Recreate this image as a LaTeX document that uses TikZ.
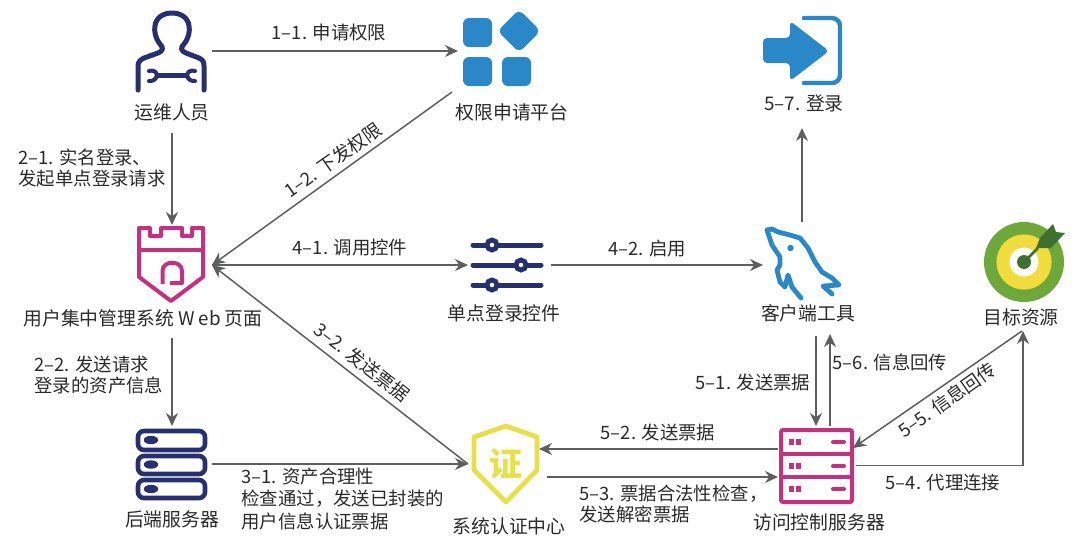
\documentclass[tikz,border=0pt]{standalone}
\usepackage{fontspec}
\setmainfont{Noto Sans CJK SC}
\usetikzlibrary{arrows.meta,calc}
\definecolor{navy}{HTML}{27306F}
\definecolor{blueI}{HTML}{2B88C8}
\definecolor{magentaI}{HTML}{C4317F}
\definecolor{yellowI}{HTML}{E6E04A}
\definecolor{greenI}{HTML}{6FA83A}
\definecolor{greenD}{HTML}{3F7030}
\definecolor{yellowT}{HTML}{F0DC3C}
\definecolor{lineC}{HTML}{5E5E5E}
\definecolor{txt}{HTML}{2A2A2A}
\tikzset{
  x=0.5pt,y=-0.5pt,
  lbl/.style={text=txt,font=\fontsize{9.4pt}{10.5pt}\selectfont,inner sep=0pt,align=left},
  elbl/.style={text=txt,font=\fontsize{9.2pt}{10.5pt}\selectfont,inner sep=0pt,align=left},
  flow/.style={draw=lineC,line width=0.75pt,-{Stealth[length=6.5pt,width=6pt]}},
  icon/.style={inner sep=0pt,outer sep=0pt},
}
\begin{document}
\begin{tikzpicture}
\useasboundingbox (0,0) rectangle (1080,548);
% ---- person
\draw[navy,line width=2.5pt,line join=round,line cap=round]
  (138,90) -- (138,66) .. controls (138,62) and (140,60) .. (144,58)
  -- (158,53) .. controls (163,51) and (164,48) .. (160,44)
  .. controls (155,38) and (154,30) .. (155,26)
  .. controls (156,17) and (164,13) .. (172,13)
  .. controls (180,13) and (188,17) .. (189,26)
  .. controls (190,30) and (189,38) .. (184,44)
  .. controls (180,48) and (181,51) .. (186,53)
  -- (199,58) .. controls (203,60) and (204,62) .. (204,66) -- (204,90);
\draw[navy,line width=2.5pt] (155,75) -- (189,75);
\draw[navy,line width=2pt,line cap=round] (149,71) .. controls (153,70) and (156,71) .. (157,75) .. controls (156,80) and (153,81) .. (149,81);
\draw[navy,line width=2pt,line cap=round] (195,71) .. controls (191,70) and (188,71) .. (187,75) .. controls (188,80) and (191,81) .. (195,81);
% ---- platform
\fill[blueI,rounded corners=3pt] (463,18) rectangle (492,47);
\fill[blueI,rounded corners=3pt] (463,57) rectangle (492,86);
\fill[blueI,rounded corners=3pt] (502,57) rectangle (531,86);
\fill[blueI,rounded corners=3pt] (519,9.5) -- (540.5,31) -- (519,52.5) -- (497.5,31) -- cycle;
% ---- login
\fill[blueI,rounded corners=2pt] (763,38) -- (790,38) -- (790,21) -- (829,51) -- (790,81) -- (790,63) -- (763,63) -- cycle;
\draw[blueI,line width=2.2pt,line cap=round,rounded corners=4pt] (804,18) -- (840,18) -- (840,83) -- (804,83);
% ---- tower
\draw[magentaI,line width=2pt,line join=round]
  (139,228) -- (150,228) -- (150,236) -- (161,236) -- (161,228) -- (182,228) -- (182,236) -- (192,236) -- (192,228) -- (203,228)
  -- (203,277) -- (171,301) -- (139,277) -- cycle;
\draw[magentaI,line width=2pt] (139,250) -- (203,250);
\draw[magentaI,line width=2pt,line join=round] (162.5,284) -- (162.5,271) .. controls (162.5,260) and (182,260) .. (182,271) -- (182,283) -- (170,283);
% ---- sliders
\begin{scope}[navy]
\draw[line width=2.5pt,line cap=round] (473,245) -- (541,245) (473,265) -- (541,265) (473,285) -- (541,285);
\foreach \kx/\ky in {492/245,521/265,492/285}{
  \draw[line width=2.4pt,fill=white] (\kx,\ky) circle (2.5pt);
}
\end{scope}
% ---- dolphin
\draw[blueI,line width=2.4pt,line join=round,line cap=round]
  (767,230) -- (772,229) -- (778,232) -- (790,235) -- (800,238) -- (808,248) -- (815,262) -- (822,272) -- (832,278) -- (839,285) -- (823,286) -- (832,294);
\draw[blueI,line width=2.4pt,line join=round,line cap=round]
  (767,230) -- (772,245) -- (780,257) -- (780,265) -- (777,270) -- (780,282) -- (785,287) -- (788,275) -- (792,287) -- (801,298);
\fill[blueI] (790.5,248) circle (1.6pt);
% ---- target
\fill[greenI] (1024,262) circle (20pt);
\fill[yellowT] (1024,262) circle (13.8pt);
\fill[white] (1024,262) circle (7.2pt);
\fill[greenD] (1024,262) circle (3.5pt);
\draw[greenD,line width=1.3pt] (1024,262) -- (1038,248);
\fill[greenD] (1036,248) -- (1040,238) -- (1053,224) -- (1056,232) -- (1065,233) -- (1051,248) -- cycle;
% ---- certificate
\draw[yellowI,line width=2.4pt,line join=round] (506,426) -- (537,437) -- (537,470) -- (506,502) -- (474,470) -- (474,437) -- cycle;
\node[icon,text=yellowI,font=\fontsize{16.5pt}{17pt}\bfseries\selectfont] (zheng) at (505.5,464) {证};
% ---- access server
\draw[magentaI,line width=2pt,rounded corners=1pt] (781,430) rectangle (852,502);
\draw[magentaI,line width=2pt] (781,454) -- (852,454) (781,477) -- (852,477);
\foreach \sy in {442,466,489}{
  \draw[magentaI,line width=2.5pt] (791,\sy-3) -- (791,\sy+3) (798,\sy-3) -- (798,\sy+3);
  \draw[magentaI,line width=2pt,line cap=round] (833,\sy) -- (844,\sy);
}
% ---- backend
\begin{scope}[navy,line width=2.3pt]
\draw[rounded corners=3pt] (138,431) rectangle (205,450);
\draw[rounded corners=3pt] (138,456) rectangle (205,474);
\draw[rounded corners=3pt] (138,480) rectangle (205,498);
\foreach \dy in {440,464.5,489}{\fill (151,\dy) ellipse (3.6pt and 2.1pt);}
\end{scope}
% ---- labels
\node[lbl] (n-ops) at (172,112) {运维人员};
\node[lbl] (n-plat) at (512,112) {权限申请平台};
\node[lbl] (n-login) at (804,103) {5–7. 登录};
\node[lbl] (n-uc) at (143,318) {用户集中管理系统 W eb 页面};
\node[lbl] (n-sso) at (504,313) {单点登录控件};
\node[lbl] (n-cli) at (808,313) {客户端工具};
\node[lbl] (n-tgt) at (1021,317) {目标资源};
\node[lbl] (n-back) at (172,519) {后端服务器};
\node[lbl] (n-cert) at (509,526) {系统认证中心};
\node[lbl] (n-acc) at (819,522) {访问控制服务器};
% ---- connector anchors
\coordinate (opsR) at (212,51);
\coordinate (platL) at (458,51);
\coordinate (platB) at (452,92);
\coordinate (ucT) at (172,225);
\coordinate (ucTop) at (172,133);
\coordinate (ucR) at (212,265);
\coordinate (ssoL) at (468,265);
\coordinate (ssoR) at (551,265);
\coordinate (cliL) at (763,265);
\coordinate (cliT) at (802,222);
\coordinate (loginB) at (802,128);
\coordinate (ucB) at (172,338);
\coordinate (backT) at (172,426);
\coordinate (backR) at (212,464);
\coordinate (certL) at (468,464);
\coordinate (certR) at (547,477);
\coordinate (certRt) at (539,449);
\coordinate (accL) at (778,477);
\coordinate (accLt) at (778,449);
\coordinate (accTa) at (816,426);
\coordinate (accTb) at (830,426);
\coordinate (cliBa) at (816,336);
\coordinate (cliBb) at (830,334);
\coordinate (accRa) at (856,465.5);
\coordinate (corner) at (1023,465.5);
\coordinate (tgtB) at (1023,331);
\coordinate (tgtBl) at (1022,331);
\coordinate (accRb) at (853,448);
% ---- connectors
\draw[flow] (opsR) -- (platL);
\draw[flow] (platB) -- (ucR);
\draw[flow] (ucTop) -- (ucT);
\draw[flow] (ucR) -- (ssoL);
\draw[flow] (ssoR) -- (cliL);
\draw[flow] (cliT) -- (loginB);
\draw[flow] (certL) -- (ucR);
\draw[flow] (ucB) -- (backT);
\draw[flow] (backR) -- (certL);
\draw[flow] (certR) -- (accL);
\draw[flow] (accLt) -- (certRt);
\draw[flow] (cliBa) -- (accTa);
\draw[flow] (accTb) -- (cliBb);
\draw[flow] (accRa) -- (corner) -- (tgtB);
\draw[flow] (tgtBl) -- (accRb);
% ---- edge labels
\node[elbl] (e11) at (329,33) {1–1. 申请权限};
\node[elbl,rotate=35] (e12) at (333,160) {1–2. 下发权限};
\node[elbl,anchor=west] (e21) at (18,168) {2–1. 实名登录、\\发起单点登录请求};
\node[elbl,anchor=west] (e22) at (34,375) {2–2. 发送请求\\登录的资产信息};
\node[elbl] (e41) at (350,248) {4–1. 调用控件};
\node[elbl] (e42) at (647,249) {4–2. 启用};
\node[elbl,rotate=-38] (e32) at (362,362) {3–2. 发送票据};
\node[elbl,anchor=west,font=\fontsize{9.2pt}{11.2pt}\selectfont] (e31) at (241,499) {3–1. 资产合理性\\检查通过，发送已封装的\\用户信息认证票据};
\node[elbl] (e52) at (658,432) {5–2. 发送票据};
\node[elbl,anchor=west] (e53) at (579,504) {5–3. 票据合法性检查，\\发送解密票据};
\node[elbl] (e51) at (753,382) {5–1. 发送票据};
\node[elbl] (e56) at (890,362) {5–6. 信息回传};
\node[elbl,rotate=35] (e55) at (947,400) {5–5. 信息回传};
\node[elbl] (e54) at (943,483) {5–4. 代理连接};
\end{tikzpicture}
\end{document}
